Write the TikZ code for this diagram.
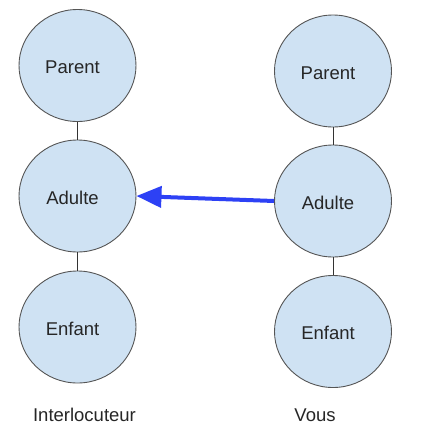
\documentclass[tikz,border=0pt]{standalone}
\usepackage{fontspec}
\setmainfont{Liberation Sans}
\usetikzlibrary{shapes.geometric,arrows.meta}
\definecolor{nodefill}{HTML}{CFE2F3}
\definecolor{nodeline}{HTML}{555555}
\definecolor{arrowblue}{RGB}{45,65,245}
\newcommand{\shifted}[1]{\hspace*{-10pt}\raisebox{-8pt}[0pt][0pt]{#1}}
\tikzset{
  state/.style={ellipse, draw=nodeline, line width=0.9pt, fill=nodefill,
    minimum width=117pt, minimum height=112pt, inner sep=0pt,
    font=\fontsize{18.5}{21}\selectfont, text=black!85},
  lbl/.style={font=\fontsize{18.5}{21}\selectfont, text=black!85, inner sep=0pt},
  link/.style={draw=black!80, line width=0.9pt},
  flow/.style={draw=arrowblue, line width=4pt, -{Triangle[length=25pt,width=21pt]}}
}
\begin{document}
\begin{tikzpicture}[x=1pt,y=-1pt]
\useasboundingbox (0,0) rectangle (425,426);
\node[state] (lp) at (77.5,65.5) {\shifted{Parent}};
\node[state] (la) at (77.5,196) {\shifted{Adulte}};
\node[state] (le) at (77.5,327) {\shifted{Enfant}};
\node[state] (rp) at (333,71) {\shifted{Parent}};
\node[state] (ra) at (333,201) {\shifted{Adulte}};
\node[state] (re) at (333,331.5) {\shifted{Enfant}};
\draw[link] (lp.south) -- (la.north);
\draw[link] (la.south) -- (le.north);
\draw[link] (rp.south) -- (ra.north);
\draw[link] (ra.south) -- (re.north);
\draw[flow] (ra.west) -- (la.east);
\node[lbl] (tl) at (84.5,415) {Interlocuteur};
\node[lbl] (tr) at (315,415) {Vous};
\end{tikzpicture}
\end{document}
